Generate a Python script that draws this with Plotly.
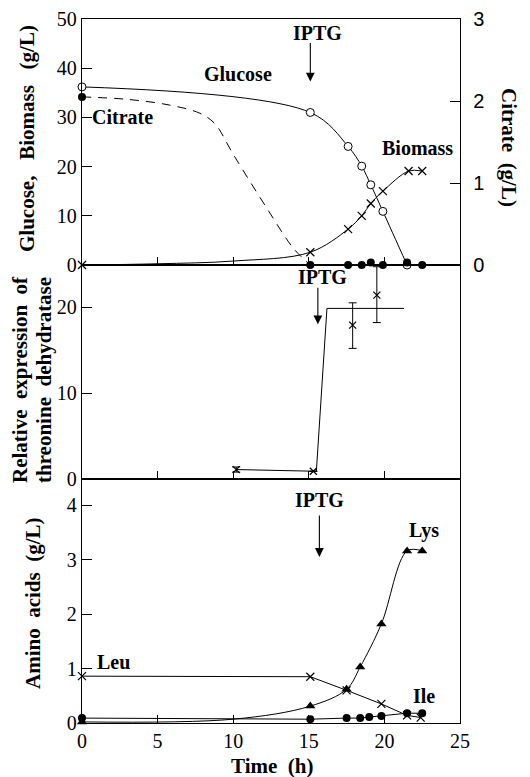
import plotly.graph_objects as go

# ---------------- data ----------------
# Top panel
glc_t = [0, 15.1, 17.6, 18.5, 19.1, 19.9, 21.5]
glc_v = [36.2, 31.0, 24.1, 20.1, 16.3, 10.9, 0.0]

bio_t = [0, 15.1, 17.6, 18.5, 19.1, 19.9, 21.6, 22.5]
bio_v = [0.0, 2.6, 7.3, 10.0, 12.5, 15.0, 19.1, 19.1]
bio_curve_t = [0, 5, 10, 15.1, 17.6, 18.5, 19.1, 19.9, 21.6, 22.5]
bio_curve_v = [0.0, 0.25, 0.8, 2.6, 7.3, 10.0, 12.5, 15.0, 19.1, 19.1]

cit_t = [0, 15.1, 17.6, 18.5, 19.1, 19.9, 21.5, 22.5]
cit_v = [2.05, 0.0, 0.0, 0.0, 0.03, 0.0, 0.03, 0.0]
cit_curve_t = [0, 3, 5.8, 7.8, 8.8, 10.0, 12.2, 14.0, 15.1]
cit_curve_v = [2.05, 2.02, 1.95, 1.85, 1.72, 1.35, 0.70, 0.20, 0.0]
cit_base_t = [15.1, 22.5]
cit_base_v = [0.0, 0.0]

# Middle panel
thr_t = [10.2, 15.3, 17.9, 19.5]
thr_v = [1.1, 0.9, 17.9, 21.4]
thr_err_plus = [0.3, 0.0, 2.6, 3.3]
thr_err_minus = [0.3, 0.0, 2.7, 3.2]
thr_line_t = [10.2, 15.3, 15.5, 16.2, 21.3]
thr_line_v = [1.1, 0.9, 0.9, 19.85, 19.85]

# Bottom panel
lys_t = [0, 15.1, 17.5, 18.4, 19.8, 21.5, 22.5]
lys_v = [0.02, 0.31, 0.62, 1.03, 1.82, 3.16, 3.16]
lys_curve_t = [0, 10, 15.1, 17.5, 18.4, 19.8, 21.5, 22.5]
lys_curve_v = [0.02, 0.07, 0.31, 0.62, 1.03, 1.82, 3.16, 3.16]

leu_t = [0, 15.1, 17.5, 19.8, 21.5, 22.4]
leu_v = [0.86, 0.85, 0.60, 0.35, 0.14, 0.10]

ile_t = [0, 15.1, 17.5, 18.4, 19.0, 19.8, 21.5, 22.5]
ile_v = [0.09, 0.07, 0.09, 0.09, 0.11, 0.13, 0.18, 0.18]

x_ticks = [0, 5, 10, 15, 20, 25]

# ---------------- figure ----------------
OFF = 8                        # default page (body) margin of the html page
W, H = 530 - OFF, 777 - OFF
L, R, T, B = 82 - OFF, 460 - OFF, 19 - OFF, 723 - OFF   # plot-area edges in figure pixels
SERIF = "Times New Roman, Liberation Serif, DejaVu Serif, serif"
SANS = "Arial, Liberation Sans, sans-serif"
K = "black"

def px_x(p):
    return (p - OFF - L) / (R - L)

def px_y(p):
    return (B - (p - OFF)) / (B - T)

top_dom = [px_y(265), 1]
mid_dom = [px_y(479), px_y(265)]
bot_dom = [0, px_y(479)]

fig = go.Figure()

xmark = dict(symbol="x-thin-open", size=8, color=K, line=dict(color=K, width=1.2))

# Top panel traces
fig.add_trace(go.Scatter(x=cit_curve_t, y=cit_curve_v, mode="lines", line=dict(color=K, width=1, dash="9px,7px"),
                         line_shape="spline", xaxis="x", yaxis="y2", showlegend=False))
fig.add_trace(go.Scatter(x=cit_base_t, y=cit_base_v, mode="lines", line=dict(color=K, width=1),
                         xaxis="x", yaxis="y2", showlegend=False))
fig.add_trace(go.Scatter(x=bio_curve_t, y=bio_curve_v, mode="lines", line=dict(color=K, width=1),
                         line_shape="spline", xaxis="x", yaxis="y", showlegend=False))
fig.add_trace(go.Scatter(x=bio_t, y=bio_v, mode="markers", marker=xmark,
                         xaxis="x", yaxis="y", showlegend=False, cliponaxis=False))
fig.add_trace(go.Scatter(x=glc_t, y=glc_v, mode="lines+markers", line=dict(color=K, width=1), line_shape="spline",
                         marker=dict(symbol="circle", size=8, color="white", line=dict(color=K, width=1)),
                         xaxis="x", yaxis="y", showlegend=False, cliponaxis=False))
fig.add_trace(go.Scatter(x=cit_t, y=cit_v, mode="markers",
                         marker=dict(symbol="circle", size=8, color=K),
                         xaxis="x", yaxis="y2", showlegend=False, cliponaxis=False))

# Middle panel traces
fig.add_trace(go.Scatter(x=thr_line_t, y=thr_line_v, mode="lines", line=dict(color=K, width=1),
                         xaxis="x3", yaxis="y3", showlegend=False))
fig.add_trace(go.Scatter(x=thr_t, y=thr_v, mode="markers",
                         marker=dict(symbol="x-thin-open", size=7, color=K, line=dict(color=K, width=1.2)),
                         error_y=dict(type="data", array=thr_err_plus, arrayminus=thr_err_minus,
                                      color=K, thickness=1, width=4),
                         xaxis="x3", yaxis="y3", showlegend=False, cliponaxis=False))

# Bottom panel traces
fig.add_trace(go.Scatter(x=lys_curve_t, y=lys_curve_v, mode="lines", line=dict(color=K, width=1),
                         line_shape="spline", xaxis="x4", yaxis="y4", showlegend=False))
fig.add_trace(go.Scatter(x=lys_t, y=lys_v, mode="markers",
                         marker=dict(symbol="triangle-up", size=9, color=K),
                         xaxis="x4", yaxis="y4", showlegend=False, cliponaxis=False))
fig.add_trace(go.Scatter(x=leu_t, y=leu_v, mode="lines+markers", line=dict(color=K, width=1),
                         marker=xmark,
                         xaxis="x4", yaxis="y4", showlegend=False, cliponaxis=False))
fig.add_trace(go.Scatter(x=ile_t, y=ile_v, mode="lines+markers", line=dict(color=K, width=1),
                         marker=dict(symbol="circle", size=8, color=K),
                         xaxis="x4", yaxis="y4", showlegend=False, cliponaxis=False))

tickfont = dict(family=SERIF, size=20, color=K)
common_x = dict(range=[0, 25], tickvals=x_ticks, ticks="inside", ticklen=8, tickwidth=1, tickcolor=K,
                showline=True, linecolor=K, linewidth=1.3, mirror=True, showgrid=False, zeroline=False,
                domain=[0, 1], automargin=False)
common_y = dict(ticks="inside", ticklen=10, tickwidth=1, tickcolor=K, showline=True, linecolor=K,
                linewidth=1.3, mirror=True, showgrid=False, zeroline=False, tickfont=tickfont,
                automargin=False)

fig.update_layout(
    width=W, height=H,
    margin=dict(l=L, r=W - R, t=T, b=H - B, pad=0, autoexpand=False),
    paper_bgcolor="white", plot_bgcolor="white",
    showlegend=False,
    font=dict(family=SERIF, color=K),
    xaxis=dict(**common_x, anchor="y", showticklabels=False),
    yaxis=dict(**common_y, domain=top_dom, range=[0, 50], tickvals=[0, 10, 20, 30, 40, 50], anchor="x"),
    yaxis2=dict(ticks="inside", ticklen=10, tickwidth=1, tickcolor=K, showline=True, linecolor=K,
                linewidth=1.3, showgrid=False, zeroline=False, overlaying="y", side="right",
                range=[0, 3], tickvals=[0, 1, 2, 3], anchor="x", automargin=False,
                ticklabelstandoff=8,
                tickfont=dict(family=SANS, size=20, color=K)),
    xaxis3=dict(**common_x, anchor="y3", showticklabels=False),
    yaxis3=dict(**common_y, domain=mid_dom, range=[0, 24.9], tickvals=[0, 10, 20], anchor="x3"),
    xaxis4=dict(**common_x, anchor="y4", showticklabels=True, tickfont=tickfont),
    yaxis4=dict(**common_y, domain=bot_dom, range=[0, 4.48], tickvals=[0, 1, 2, 3, 4], anchor="x4"),
)

sp = "\u00a0\u00a0"

def label(text, x, y, xref, yref, size=20, angle=0):
    fig.add_annotation(text=text, x=x, y=y, xref=xref, yref=yref, showarrow=False,
                       font=dict(family=SERIF, size=size, color=K), textangle=angle,
                       xanchor="center", yanchor="middle")

def arrow(x, y, ay, xref, yref):
    fig.add_annotation(text="", x=x, y=y, xref=xref, yref=yref, ax=0, ay=ay, showarrow=True,
                       arrowhead=2, arrowsize=1.6, arrowwidth=1.1, arrowcolor=K)

# Top panel labels
label("<b>IPTG</b>", 15.6, 47.1, "x", "y")
arrow(15.1, 37.3, -40, "x", "y")
label("<b>Glucose</b>", 10.3, 38.8, "x", "y")
label("<b>Citrate</b>", 2.7, 30.0, "x", "y")
label("<b>Biomass</b>", 22.2, 23.7, "x", "y")

# Middle panel labels
label("<b>IPTG</b>", 15.9, 23.5, "x3", "y3")
arrow(15.6, 18.0, -38, "x3", "y3")

# Bottom panel labels
label("<b>IPTG</b>", 15.7, 4.1, "x4", "y4")
arrow(15.7, 3.05, -43, "x4", "y4")
label("<b>Leu</b>", 2.07, 1.12, "x4", "y4")
label("<b>Lys</b>", 22.6, 3.54, "x4", "y4")
label("<b>Ile</b>", 22.6, 0.5, "x4", "y4")

# Axis titles
label("<b>Glucose,\u00a0\u00a0\u00a0Biomass\u00a0\u00a0\u00a0(g/L)</b>", px_x(27), px_y(139), "paper", "paper", size=21, angle=-90)
label("<b>Citrate" + sp + "(g/L)</b>", px_x(509), px_y(148), "paper", "paper", size=21, angle=90)
label("<b>Relative" + sp + "expression" + sp + "of</b>", px_x(20), px_y(380), "paper", "paper", size=21, angle=-90)
label("<b>threonine" + sp + "dehydratase</b>", px_x(44), px_y(380), "paper", "paper", size=21, angle=-90)
label("<b>Amino" + sp + "acids" + sp + "(g/L)</b>", px_x(33), px_y(603), "paper", "paper", size=21, angle=-90)
label("<b>Time" + sp + "(h)</b>", px_x(272), px_y(766), "paper", "paper", size=21)

fig.write_html("out.html")
